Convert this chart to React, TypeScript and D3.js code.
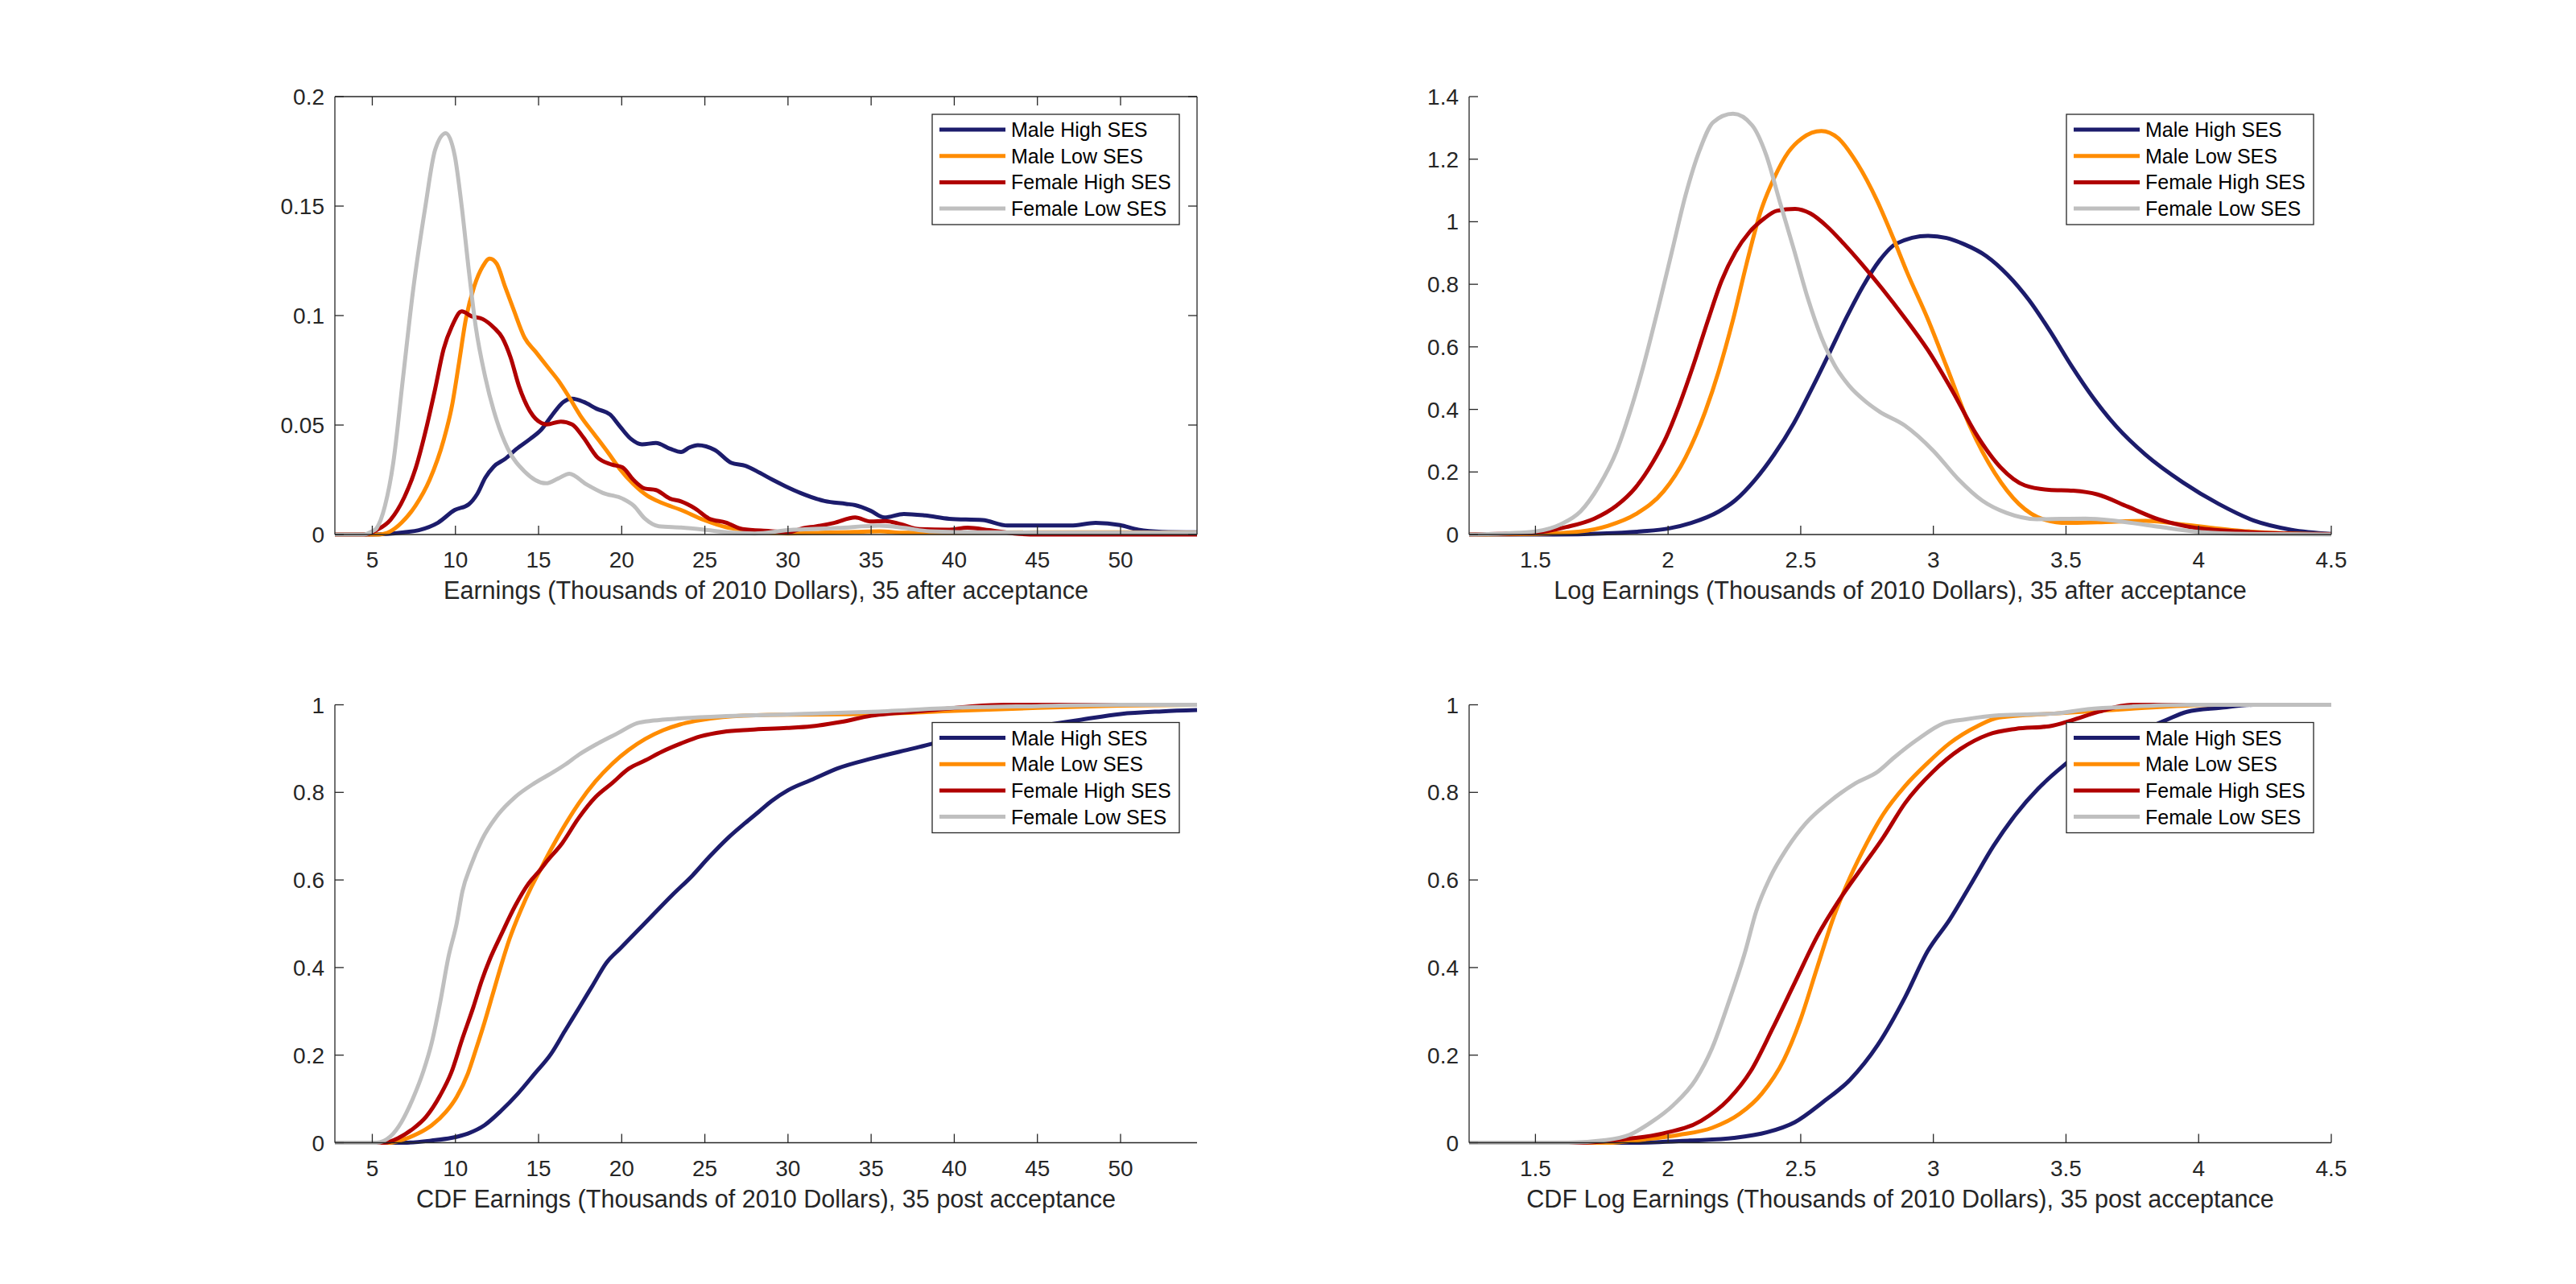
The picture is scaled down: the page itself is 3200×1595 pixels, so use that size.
import React from 'react'
import * as d3 from 'd3'

type Pt = [number, number]

const seriesNames = ['Male High SES', 'Male Low SES', 'Female High SES', 'Female Low SES']
const seriesColors = ['#1c1c6c', '#ff8c00', '#b00000', '#bfbfbf']

const earnTicks = [5, 10, 15, 20, 25, 30, 35, 40, 45, 50]
const logTicks = [1.5, 2, 2.5, 3, 3.5, 4, 4.5]
const pdfTicks = [0, 0.05, 0.1, 0.15, 0.2]
const logPdfTicks = [0, 0.2, 0.4, 0.6, 0.8, 1, 1.2, 1.4]
const cdfTicks = [0, 0.2, 0.4, 0.6, 0.8, 1]

const earnRange: Pt = [2.75, 54.6]
const logRange: Pt = [1.25, 4.5]

// density of earnings, 35 after acceptance
const maleHighPdf: Pt[] = [[2.75, 0], [5, 0], [6.9, 0.001], [7.8, 0.002], [8.95, 0.0054], [9.96, 0.0112], [10.8, 0.0138], [11.3, 0.0184], [11.8, 0.026], [12.3, 0.031], [13, 0.0346], [13.66, 0.039], [14.5, 0.0437], [15.17, 0.048], [15.84, 0.0548], [16.5, 0.0606], [17.02, 0.062], [17.7, 0.0606], [18.5, 0.0574], [19.3, 0.0548], [19.87, 0.0496], [20.55, 0.0437], [21.22, 0.0412], [22.06, 0.0418], [22.9, 0.0392], [23.57, 0.0377], [24.08, 0.0398], [24.58, 0.0408], [25.6, 0.0386], [26.6, 0.0327], [27.44, 0.0314], [28.3, 0.0282], [29.1, 0.0249], [29.84, 0.0221], [30.75, 0.019], [32.2, 0.0153], [33.5, 0.014], [34.04, 0.0134], [34.96, 0.0109], [35.8, 0.0078], [36.97, 0.0094], [38.25, 0.0087], [39.7, 0.0072], [41.7, 0.0066], [43.2, 0.0041], [45.4, 0.0041], [47, 0.0041], [48.5, 0.0053], [49.96, 0.0043], [51.06, 0.0022], [52.5, 0.0012], [54.6, 0.001]]
const maleLowPdf: Pt[] = [[2.75, 0], [5.4, 0], [6.1, 0.0015], [6.76, 0.0054], [7.6, 0.0132], [8.45, 0.025], [9.29, 0.0431], [9.79, 0.0587], [10.21, 0.0782], [10.63, 0.0985], [11.13, 0.1133], [11.64, 0.1224], [12.06, 0.126], [12.48, 0.1237], [12.98, 0.1133], [13.49, 0.1029], [14.16, 0.0899], [14.83, 0.0834], [15.5, 0.0769], [16.18, 0.0704], [16.85, 0.0626], [17.52, 0.0542], [18.36, 0.0457], [19.2, 0.0372], [19.87, 0.0301], [20.71, 0.023], [21.55, 0.0177], [22.39, 0.0145], [23.57, 0.0112], [24.92, 0.0067], [26.26, 0.0034], [27.44, 0.0021], [28.6, 0.0008], [30, 0.0005], [32, 0.0008], [34, 0.0012], [35.5, 0.0015], [37, 0.0008], [40, 0.0008], [45, 0.001], [50, 0.001], [54.6, 0.0008]]
const femaleHighPdf: Pt[] = [[2.75, 0], [4.6, 0], [5.25, 0.002], [6.09, 0.0067], [6.93, 0.0171], [7.6, 0.0301], [8.28, 0.0496], [8.78, 0.0665], [9.29, 0.0847], [9.79, 0.0951], [10.38, 0.1019], [10.97, 0.0997], [11.64, 0.0984], [12.31, 0.0945], [12.82, 0.0899], [13.32, 0.0808], [13.82, 0.0678], [14.5, 0.0561], [15.17, 0.0509], [15.5, 0.0503], [16.34, 0.0516], [17.02, 0.0503], [17.69, 0.0444], [18.53, 0.0353], [19.37, 0.032], [20.04, 0.0307], [20.71, 0.0249], [21.39, 0.021], [22.06, 0.0203], [22.9, 0.0164], [23.57, 0.0151], [24.41, 0.0119], [25.25, 0.0073], [26.26, 0.0055], [27.27, 0.0025], [28.9, 0.0016], [30, 0.001], [30.9, 0.0029], [31.67, 0.0037], [32.76, 0.0053], [34.04, 0.0078], [34.96, 0.006], [35.87, 0.0062], [36.79, 0.0047], [37.9, 0.0025], [39.7, 0.0022], [40.8, 0.0031], [42.1, 0.002], [43.6, 0.0005], [45, 0], [54.6, 0]]
const femaleLowPdf: Pt[] = [[2.75, 0], [4.5, 0], [5, 0.0015], [5.25, 0.0028], [5.76, 0.013], [6.26, 0.0327], [6.85, 0.0717], [7.44, 0.1107], [8.19, 0.1497], [8.78, 0.1757], [9.42, 0.1833], [9.96, 0.173], [10.38, 0.1497], [10.8, 0.121], [11.22, 0.095], [11.8, 0.0717], [12.48, 0.0522], [13.15, 0.0392], [14.16, 0.0288], [15.45, 0.0234], [16.18, 0.0256], [16.85, 0.0278], [17.86, 0.023], [18.87, 0.019], [20.05, 0.0164], [20.72, 0.0132], [21.39, 0.0073], [22.23, 0.0038], [23.57, 0.0032], [25.08, 0.0021], [26.6, 0.0008], [28, 0.0005], [30, 0.002], [33, 0.003], [35.5, 0.004], [37, 0.003], [38.5, 0.0015], [42, 0.001], [54.6, 0.0008]]

// density of log earnings
const maleHighLogPdf: Pt[] = [[1.25, 0], [1.57, 0], [1.75, 0.003], [1.9, 0.01], [2, 0.019], [2.087, 0.037], [2.192, 0.074], [2.254, 0.11], [2.327, 0.174], [2.4, 0.256], [2.474, 0.356], [2.547, 0.475], [2.61, 0.584], [2.672, 0.693], [2.735, 0.794], [2.797, 0.876], [2.86, 0.93], [2.98, 0.955], [3.05, 0.948], [3.116, 0.928], [3.2, 0.89], [3.28, 0.83], [3.36, 0.75], [3.44, 0.65], [3.52, 0.54], [3.6, 0.44], [3.69, 0.345], [3.8, 0.255], [3.94, 0.167], [4.075, 0.098], [4.21, 0.044], [4.35, 0.015], [4.5, 0.002]]
const maleLowLogPdf: Pt[] = [[1.25, 0], [1.5, 0.002], [1.67, 0.01], [1.774, 0.028], [1.878, 0.065], [1.983, 0.138], [2.066, 0.247], [2.14, 0.393], [2.19, 0.52], [2.244, 0.684], [2.296, 0.866], [2.348, 1.03], [2.4, 1.14], [2.453, 1.222], [2.505, 1.267], [2.578, 1.29], [2.641, 1.267], [2.714, 1.185], [2.788, 1.067], [2.85, 0.945], [2.9, 0.84], [2.979, 0.689], [3.048, 0.541], [3.139, 0.344], [3.231, 0.197], [3.322, 0.098], [3.413, 0.049], [3.505, 0.037], [3.619, 0.039], [3.801, 0.044], [3.961, 0.03], [4.189, 0.01], [4.418, 0.002], [4.5, 0.001]]
const femaleHighLogPdf: Pt[] = [[1.25, 0], [1.36, 0.002], [1.5, 0.006], [1.617, 0.024], [1.722, 0.051], [1.805, 0.092], [1.878, 0.151], [1.941, 0.229], [1.993, 0.311], [2.045, 0.42], [2.098, 0.548], [2.15, 0.684], [2.202, 0.812], [2.254, 0.903], [2.307, 0.967], [2.359, 1.008], [2.41, 1.035], [2.479, 1.041], [2.537, 1.026], [2.599, 0.985], [2.662, 0.93], [2.735, 0.86], [2.808, 0.785], [2.89, 0.695], [2.979, 0.59], [3.071, 0.46], [3.162, 0.32], [3.253, 0.215], [3.345, 0.157], [3.436, 0.143], [3.527, 0.14], [3.619, 0.128], [3.733, 0.089], [3.847, 0.049], [3.961, 0.025], [4.144, 0.01], [4.372, 0.002], [4.5, 0.001]]
const femaleLowLogPdf: Pt[] = [[1.25, 0], [1.4, 0.004], [1.5, 0.01], [1.596, 0.033], [1.67, 0.074], [1.74, 0.156], [1.805, 0.265], [1.857, 0.393], [1.91, 0.548], [1.962, 0.721], [2.014, 0.903], [2.066, 1.085], [2.12, 1.231], [2.17, 1.318], [2.245, 1.345], [2.317, 1.308], [2.37, 1.213], [2.42, 1.067], [2.474, 0.912], [2.526, 0.757], [2.578, 0.63], [2.63, 0.538], [2.683, 0.475], [2.745, 0.425], [2.797, 0.393], [2.89, 0.35], [3.002, 0.266], [3.094, 0.177], [3.185, 0.108], [3.276, 0.069], [3.39, 0.049], [3.573, 0.051], [3.687, 0.044], [3.847, 0.025], [4.007, 0.008], [4.19, 0.002], [4.5, 0]]

// cdf of earnings
const maleHighCdf: Pt[] = [[2.75, 0], [6.9, 0], [8.58, 0.005], [9.75, 0.011], [10.75, 0.021], [11.75, 0.04], [12.75, 0.073], [13.75, 0.112], [14.75, 0.157], [15.75, 0.203], [16.58, 0.255], [17.42, 0.307], [18.25, 0.359], [19.08, 0.411], [19.92, 0.444], [20.92, 0.483], [21.92, 0.522], [23.08, 0.567], [24.25, 0.61], [25.25, 0.652], [26.42, 0.697], [27.42, 0.73], [28.25, 0.756], [29, 0.78], [30, 0.805], [31.5, 0.83], [33, 0.855], [35, 0.877], [37.5, 0.9], [40, 0.923], [42.5, 0.938], [45, 0.951], [47.5, 0.965], [50, 0.979], [52.5, 0.985], [54.6, 0.988]]
const maleLowCdf: Pt[] = [[2.75, 0], [6.08, 0], [6.92, 0.008], [7.75, 0.021], [8.58, 0.04], [9.42, 0.07], [10.08, 0.105], [10.75, 0.158], [11.25, 0.215], [11.75, 0.275], [12.25, 0.34], [12.75, 0.405], [13.25, 0.465], [13.92, 0.53], [14.58, 0.585], [15.1, 0.623], [15.75, 0.67], [16.5, 0.72], [17.42, 0.775], [18.42, 0.825], [19.42, 0.865], [20.42, 0.897], [21.42, 0.922], [22.5, 0.942], [23.5, 0.955], [24.42, 0.963], [26.08, 0.972], [28.88, 0.977], [35, 0.979], [40, 0.986], [45, 0.993], [50, 0.998], [54.6, 1]]
const femaleHighCdf: Pt[] = [[2.75, 0], [5.75, 0], [6.58, 0.011], [7.42, 0.031], [8.25, 0.06], [9.08, 0.108], [9.75, 0.16], [10.42, 0.238], [11.08, 0.31], [11.58, 0.37], [12.08, 0.42], [12.75, 0.475], [13.58, 0.54], [14.42, 0.593], [15.1, 0.623], [15.42, 0.639], [16.42, 0.684], [17.42, 0.742], [18.42, 0.789], [19.42, 0.821], [20.42, 0.854], [21.42, 0.873], [22.42, 0.893], [23.58, 0.912], [24.75, 0.928], [26.08, 0.938], [27.75, 0.943], [29.93, 0.947], [31.4, 0.951], [33.2, 0.961], [35, 0.975], [36.5, 0.981], [38.7, 0.988], [40.9, 0.996], [43, 1], [54.6, 1]]
const femaleLowCdf: Pt[] = [[2.75, 0], [5.25, 0], [6.08, 0.014], [6.75, 0.047], [7.42, 0.099], [8.08, 0.164], [8.58, 0.229], [9.08, 0.32], [9.58, 0.424], [10.08, 0.502], [10.42, 0.574], [10.92, 0.632], [11.58, 0.691], [12.58, 0.75], [13.58, 0.789], [14.75, 0.821], [15.92, 0.847], [16.58, 0.863], [17.42, 0.886], [18.58, 0.912], [19.75, 0.935], [20.92, 0.958], [21.92, 0.964], [23.58, 0.969], [26.08, 0.974], [29.93, 0.978], [35, 0.984], [40, 0.993], [45, 0.997], [50, 1], [54.6, 1]]

// cdf of log earnings
const maleHighLogCdf: Pt[] = [[1.25, 0], [1.875, 0], [2.083, 0.005], [2.249, 0.011], [2.374, 0.024], [2.478, 0.047], [2.582, 0.092], [2.686, 0.144], [2.79, 0.223], [2.894, 0.333], [2.978, 0.437], [3.061, 0.509], [3.144, 0.593], [3.227, 0.678], [3.311, 0.75], [3.394, 0.808], [3.477, 0.854], [3.56, 0.893], [3.664, 0.919], [3.769, 0.938], [3.873, 0.964], [3.956, 0.984], [4.081, 0.993], [4.206, 1], [4.5, 1]]
const maleLowLogCdf: Pt[] = [[1.25, 0], [1.77, 0], [1.916, 0.008], [2.041, 0.018], [2.166, 0.034], [2.27, 0.066], [2.353, 0.112], [2.437, 0.19], [2.499, 0.281], [2.561, 0.398], [2.624, 0.515], [2.686, 0.606], [2.749, 0.684], [2.811, 0.75], [2.894, 0.815], [2.978, 0.867], [3.061, 0.912], [3.165, 0.951], [3.248, 0.971], [3.456, 0.98], [3.644, 0.987], [3.852, 0.995], [4.06, 1], [4.5, 1]]
const femaleHighLogCdf: Pt[] = [[1.25, 0], [1.666, 0], [1.833, 0.008], [1.979, 0.021], [2.124, 0.05], [2.228, 0.099], [2.312, 0.164], [2.395, 0.262], [2.478, 0.366], [2.561, 0.47], [2.645, 0.554], [2.728, 0.626], [2.811, 0.697], [2.894, 0.776], [2.998, 0.847], [3.102, 0.899], [3.207, 0.932], [3.31, 0.945], [3.436, 0.951], [3.519, 0.964], [3.623, 0.984], [3.748, 1], [4.5, 1]]
const femaleLowLogCdf: Pt[] = [[1.25, 0], [1.625, 0], [1.75, 0.005], [1.854, 0.018], [1.937, 0.047], [2.02, 0.086], [2.104, 0.144], [2.166, 0.216], [2.228, 0.32], [2.291, 0.437], [2.332, 0.528], [2.385, 0.606], [2.447, 0.671], [2.52, 0.73], [2.603, 0.776], [2.707, 0.821], [2.79, 0.847], [2.853, 0.88], [2.936, 0.919], [3.04, 0.958], [3.123, 0.967], [3.248, 0.976], [3.456, 0.98], [3.581, 0.99], [3.748, 0.996], [3.956, 1], [4.5, 1]]

const W = 3200
const H = 1595
const FONT = '"Liberation Sans", Arial, Helvetica, sans-serif'
const INK = '#262626'
const PW = 1071
const PH = 544

interface PanelProps {
  left: number
  top: number
  xDomain: Pt
  yDomain: Pt
  xTicks: number[]
  yTicks: number[]
  label: string
  series: Pt[][]
  box?: boolean
}

function Legend({ x, y }: { x: number; y: number }) {
  return (
    <g transform={`translate(${x},${y})`}>
      <rect x={0} y={0} width={307} height={137} fill="#fff" stroke={INK} strokeWidth={1.3} />
      {seriesNames.map((name, i) => {
        const cy = 19 + i * 32.7
        return (
          <g key={name}>
            <line x1={9} x2={91} y1={cy} y2={cy} stroke={seriesColors[i]} strokeWidth={5} />
            <text x={98} y={cy + 9} fontSize={25} fill="#000">{name}</text>
          </g>
        )
      })}
    </g>
  )
}

function Panel({ left, top, xDomain, yDomain, xTicks, yTicks, label, series, box }: PanelProps) {
  const x = d3.scaleLinear().domain(xDomain).range([0, PW])
  const y = d3.scaleLinear().domain(yDomain).range([PH, 0])
  const line = d3.line<Pt>()
    .x(d => x(d[0]))
    .y(d => y(d[1]))
    .curve(d3.curveMonotoneX)
  const tl = 11

  return (
    <g transform={`translate(${left},${top})`}>
      {series.map((s, i) => (
        <path key={i} d={line(s) || ''} fill="none" stroke={seriesColors[i]} strokeWidth={5} strokeLinejoin="round" />
      ))}

      <line x1={0} x2={PW} y1={PH} y2={PH} stroke={INK} strokeWidth={1.3} />
      <line x1={0} x2={0} y1={0} y2={PH} stroke={INK} strokeWidth={1.3} />
      {box && <line x1={0} x2={PW} y1={0} y2={0} stroke={INK} strokeWidth={1.3} />}
      {box && <line x1={PW} x2={PW} y1={0} y2={PH} stroke={INK} strokeWidth={1.3} />}

      {xTicks.map(t => (
        <g key={'x' + t}>
          <line x1={x(t)} x2={x(t)} y1={PH} y2={PH - tl} stroke={INK} strokeWidth={1.3} />
          {box && <line x1={x(t)} x2={x(t)} y1={0} y2={tl} stroke={INK} strokeWidth={1.3} />}
          <text x={x(t)} y={PH + 41} fontSize={28} textAnchor="middle" fill={INK}>{String(t)}</text>
        </g>
      ))}
      {yTicks.map(t => (
        <g key={'y' + t}>
          <line x1={0} x2={tl} y1={y(t)} y2={y(t)} stroke={INK} strokeWidth={1.3} />
          {box && <line x1={PW} x2={PW - tl} y1={y(t)} y2={y(t)} stroke={INK} strokeWidth={1.3} />}
          <text x={-13} y={y(t) + 10} fontSize={28} textAnchor="end" fill={INK}>{String(t)}</text>
        </g>
      ))}

      <text x={PW / 2} y={PH + 80} fontSize={30.6} textAnchor="middle" fill={INK}>{label}</text>

      <Legend x={PW - 22 - 307} y={22} />
    </g>
  )
}

export default function App() {
  const colLeft = [416, 1825]
  const rowTop = [120, 875.5]
  return (
    <svg width={W} height={H} viewBox={`0 0 ${W} ${H}`}
      style={{ position: 'absolute', left: 0, top: 0, background: '#fff' }}
      fontFamily={FONT}>
      <rect x={0} y={0} width={W} height={H} fill="#fff" />
      <Panel left={colLeft[0]} top={rowTop[0]} xDomain={earnRange} yDomain={[0, 0.2]}
        xTicks={earnTicks} yTicks={pdfTicks} box
        label="Earnings (Thousands of 2010 Dollars), 35 after acceptance"
        series={[maleHighPdf, maleLowPdf, femaleHighPdf, femaleLowPdf]} />
      <Panel left={colLeft[1]} top={rowTop[0]} xDomain={logRange} yDomain={[0, 1.4]}
        xTicks={logTicks} yTicks={logPdfTicks}
        label="Log Earnings (Thousands of 2010 Dollars), 35 after acceptance"
        series={[maleHighLogPdf, maleLowLogPdf, femaleHighLogPdf, femaleLowLogPdf]} />
      <Panel left={colLeft[0]} top={rowTop[1]} xDomain={earnRange} yDomain={[0, 1]}
        xTicks={earnTicks} yTicks={cdfTicks}
        label="CDF Earnings (Thousands of 2010 Dollars), 35 post acceptance"
        series={[maleHighCdf, maleLowCdf, femaleHighCdf, femaleLowCdf]} />
      <Panel left={colLeft[1]} top={rowTop[1]} xDomain={logRange} yDomain={[0, 1]}
        xTicks={logTicks} yTicks={cdfTicks}
        label="CDF Log Earnings (Thousands of 2010 Dollars), 35 post acceptance"
        series={[maleHighLogCdf, maleLowLogCdf, femaleHighLogCdf, femaleLowLogCdf]} />
    </svg>
  )
}
